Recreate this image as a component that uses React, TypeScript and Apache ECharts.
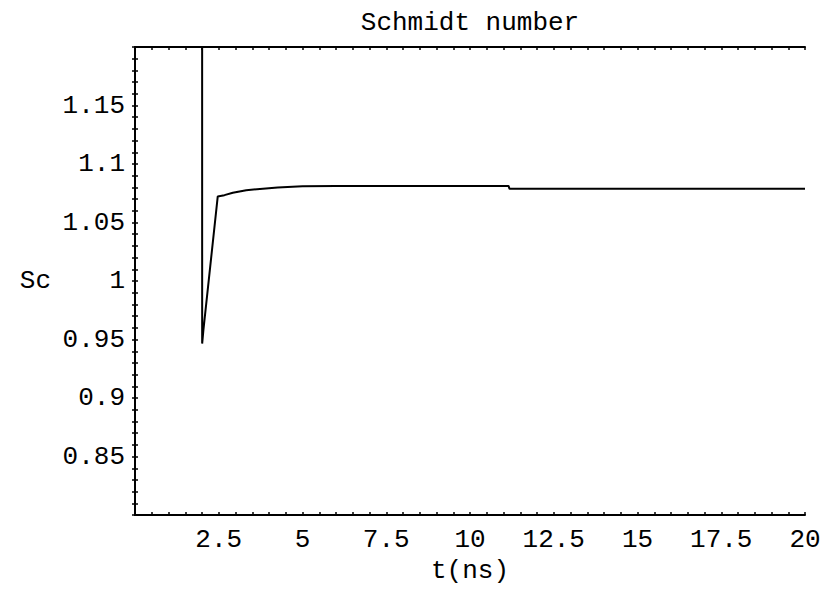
import React, { useEffect, useRef } from "react";
import * as echarts from "echarts";

// Time (ns) and Schmidt number
const tValues = [1.999, 2.005, 2.045, 2.47, 2.67, 2.92, 3.32, 4.26, 5.0, 6.0, 11.15, 11.18, 20];
const scValues = [2.5, 0.9466, 0.959, 1.0723, 1.0734, 1.0755, 1.0776, 1.08, 1.081, 1.0813, 1.0813, 1.0788, 1.0788];

const xTickLabels = [2.5, 5, 7.5, 10, 12.5, 15, 17.5, 20];
const yTickLabels = [0.85, 0.9, 0.95, 1, 1.05, 1.1, 1.15];

const FONT = "Liberation Mono";
const FS = 26;

const near = (list: number[], v: number, eps: number) => list.some((x) => Math.abs(x - v) < eps);

export default function App() {
  const ref = useRef<HTMLDivElement>(null);
  useEffect(() => {
    if (!ref.current) return;
    const chart = echarts.init(ref.current, null, { renderer: "svg" });
    const axisLine = { show: true, lineStyle: { color: "#000", width: 2 } };
    const tick = { show: true, inside: true, length: 3, lineStyle: { color: "#000", width: 1.5 } };
    chart.setOption({
      animation: false,
      backgroundColor: "#fff",
      title: {
        text: "Schmidt number",
        left: 470,
        top: 10,
        padding: 0,
        textAlign: "center",
        textStyle: { fontFamily: FONT, fontSize: FS, fontWeight: "normal", color: "#000" },
      },
      grid: { left: 135, right: 25, top: 47, bottom: 64, containLabel: false },
      xAxis: [
        {
          type: "value",
          position: "bottom",
          min: 0,
          max: 20,
          interval: 0.5,
          axisLine,
          axisTick: tick,
          splitLine: { show: false },
          axisLabel: {
            margin: 12,
            fontFamily: FONT,
            fontSize: FS,
            color: "#000",
            formatter: (v: number) => (near(xTickLabels, v, 1e-6) ? String(v) : ""),
          },
          name: "t(ns)",
          nameLocation: "middle",
          nameGap: 33,
          nameTextStyle: { fontFamily: FONT, fontSize: FS, color: "#000" },
        },
        {
          type: "value",
          position: "top",
          min: 0,
          max: 20,
          interval: 0.5,
          axisLine,
          axisTick: tick,
          splitLine: { show: false },
          axisLabel: { show: false },
        },
      ],
      yAxis: [
        {
          type: "value",
          position: "left",
          min: 0.8,
          max: 1.2,
          interval: 0.01,
          axisLine,
          axisTick: tick,
          splitLine: { show: false },
          axisLabel: {
            margin: 10,
            fontFamily: FONT,
            fontSize: FS,
            color: "#000",
            formatter: (v: number) => {
              const m = yTickLabels.find((x) => Math.abs(x - v) < 1e-6);
              return m === undefined ? "" : String(m);
            },
          },
          name: "Sc",
          nameLocation: "middle",
          nameRotate: 0,
          nameGap: 84,
          nameTextStyle: { fontFamily: FONT, fontSize: FS, color: "#000" },
        },
        {
          type: "value",
          position: "right",
          min: 0.8,
          max: 1.2,
          interval: 0.01,
          axisLine,
          axisTick: tick,
          splitLine: { show: false },
          axisLabel: { show: false },
        },
      ],
      series: [
        {
          type: "line",
          xAxisIndex: 0,
          yAxisIndex: 0,
          data: tValues.map((t, i) => [t, scValues[i]]),
          showSymbol: false,
          symbol: "none",
          clip: true,
          lineStyle: { color: "#000", width: 2 },
        },
      ],
    });
    return () => chart.dispose();
  }, []);
  return (
    <div
      ref={ref}
      style={{ position: "fixed", left: 0, top: 0, width: 830, height: 589, background: "#fff" }}
    />
  );
}
